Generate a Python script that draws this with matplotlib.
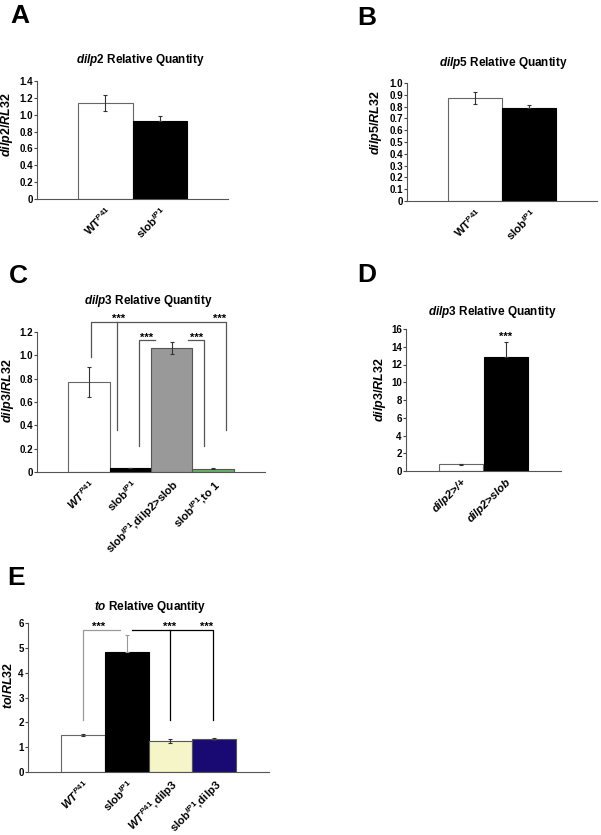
import matplotlib
matplotlib.use('Agg')
import matplotlib.pyplot as plt

plt.rcParams['font.family'] = ['Liberation Sans', 'DejaVu Sans']
plt.rcParams['font.weight'] = 'bold'
plt.rcParams['mathtext.fontset'] = 'custom'
plt.rcParams['mathtext.rm'] = 'Liberation Sans:bold'
plt.rcParams['mathtext.it'] = 'Liberation Sans:italic:bold'
plt.rcParams['mathtext.bf'] = 'Liberation Sans:bold'

# ---- data ----
# A: dilp2
a_labels = [r'WT$^{\mathit{P41}}$', r'slob$^{\mathit{IP1}}$']
a_vals = [1.14, 0.92]
a_err_lo = [0.09, 0.0]
a_err_hi = [0.09, 0.07]
a_colors = ['white', 'black']
a_ticks = [0, 0.2, 0.4, 0.6, 0.8, 1.0, 1.2, 1.4]

# B: dilp5
b_labels = [r'WT$^{\mathit{P41}}$', r'slob$^{\mathit{IP1}}$']
b_vals = [0.87, 0.79]
b_err_lo = [0.05, 0.0]
b_err_hi = [0.05, 0.02]
b_colors = ['white', 'black']
b_ticks = [0, 0.1, 0.2, 0.3, 0.4, 0.5, 0.6, 0.7, 0.8, 0.9, 1.0]

# C: dilp3
c_labels = [r'$\mathit{WT}^{\mathit{P41}}$', r'slob$^{\mathit{IP1}}$',
            r'slob$^{\mathit{IP1}}$,dilp2>slob', r'slob$^{\mathit{IP1}}$,to 1']
c_vals = [0.77, 0.03, 1.06, 0.025]
c_err_lo = [0.13, 0.0, 0.05, 0.0]
c_err_hi = [0.13, 0.005, 0.05, 0.005]
c_colors = ['white', 'black', '#999999', '#66b466']
c_ticks = [0, 0.2, 0.4, 0.6, 0.8, 1.0, 1.2]
# significance brackets: (x points, y points, colour)
c_brackets = [
    ([0.05, 0.05, 3.31, 3.31], [0.986, 1.286, 1.286, 0.357], '#555555'),
    ([0.69, 0.69], [1.286, 0.357], '#555555'),
    ([1.2, 1.2, 1.6], [0.22, 1.128, 1.128], '#555555'),
    ([2.4, 2.77, 2.77], [1.128, 1.128, 0.22], '#555555'),
]
c_stars = [(0.72, 1.286), (3.16, 1.286), (1.40, 1.128), (2.59, 1.128)]

# D: dilp3 overexpression
d_labels = ['dilp2>/+', 'dilp2>slob']
d_vals = [0.75, 12.8]
d_err_lo = [0.05, 0.0]
d_err_hi = [0.05, 1.7]
d_colors = ['white', 'black']
d_ticks = [0, 2, 4, 6, 8, 10, 12, 14, 16]
d_stars = [(1, 14.8)]

# E: to
e_labels = [r'$\mathit{WT}^{\mathit{P41}}$', r'slob$^{\mathit{IP1}}$',
            r'$\mathit{WT}^{\mathit{P41}}$,dilp3', r'slob$^{\mathit{IP1}}$,dilp3']
e_vals = [1.48, 4.82, 1.25, 1.33]
e_err_lo = [0.05, 0.0, 0.07, 0.05]
e_err_hi = [0.05, 0.68, 0.08, 0.05]
e_colors = ['white', 'black', '#f5f5c8', '#190a73']
e_ecolors = ['#333333', '#999999', '#333333', '#333333']
e_ticks = [0, 1, 2, 3, 4, 5, 6]
e_brackets = [
    ([0.0, 0.0, 0.86], [2.09, 5.73, 5.73], '#999999'),
    ([1.13, 2.97, 2.97], [5.73, 5.73, 2.09], 'black'),
    ([1.98, 1.98], [5.73, 2.09], 'black'),
]
e_stars = [(0.35, 5.73), (1.98, 5.73), (2.82, 5.73)]

W, H = 601, 835
fig = plt.figure(figsize=(W / 100, H / 100), dpi=100)


def fx(x):
    return x / W


def fy(y):
    return 1 - y / H


def make_panel(box, labels, vals, lo, hi, colors, ticks, ylab, title,
               title_xy, ylab_xy, fmt, ecolors=None, label_style='normal'):
    l, t, r, b = box
    ax = fig.add_axes([fx(l), fy(b), fx(r - l), (b - t) / H])
    n = len(vals)
    x = list(range(n))
    edges = ['#666666' if c == 'white' else 'black' if c == 'black' else '#555555' for c in colors]
    ax.bar(x, vals, width=1.0, color=colors, edgecolor=edges, linewidth=0.8, zorder=2)
    if ecolors is None:
        ecolors = ['#333333'] * n
    for i in range(n):
        ax.errorbar(x[i], vals[i], yerr=[[lo[i]], [hi[i]]], fmt='none',
                    ecolor=ecolors[i], elinewidth=0.8, capsize=1.5, capthick=0.8, zorder=3)
    ax.set_xlim(-1.25, n - 1 + 1.25)
    ax.set_ylim(ticks[0], ticks[-1])
    ax.set_yticks(ticks)
    ax.set_yticklabels([fmt(v) for v in ticks], fontsize=7, fontweight='bold')
    ax.set_xticks(x)
    ax.set_xticklabels(labels, rotation=45, ha='right', rotation_mode='anchor',
                       fontsize=8.2, fontweight='bold', fontstyle=label_style)
    ax.tick_params(axis='x', length=0, pad=4)
    ax.tick_params(axis='y', length=2, width=0.8, pad=1, color='#444444')
    for s in ['top', 'right']:
        ax.spines[s].set_visible(False)
    for s in ['left', 'bottom']:
        ax.spines[s].set_color('#555555')
        ax.spines[s].set_linewidth(0.8)
    fig.text(fx(title_xy[0]), fy(title_xy[1]), title, ha='center', va='center',
             fontsize=8.5, fontweight='bold')
    fig.text(fx(ylab_xy[0]), fy(ylab_xy[1]), ylab, ha='center', va='center',
             rotation=90, fontsize=9, fontweight='bold')
    return ax


def dec(v):
    return '0' if v == 0 else '%.1f' % v


def integer(v):
    return '%d' % v


ax_a = make_panel((37, 81, 228, 199), a_labels, a_vals, a_err_lo, a_err_hi, a_colors,
                  a_ticks, r'$\mathit{dilp2/RL32}$', r'$\mathit{dilp2}$ Relative Quantity',
                  (140, 60), (7, 125), dec)
ax_b = make_panel((407, 83, 597, 201), b_labels, b_vals, b_err_lo, b_err_hi, b_colors,
                  b_ticks, r'$\mathit{dilp5/RL32}$', r'$\mathit{dilp5}$ Relative Quantity',
                  (503, 63), (376, 123), dec)
ax_c = make_panel((37, 332, 265, 472), c_labels, c_vals, c_err_lo, c_err_hi, c_colors,
                  c_ticks, r'$\mathit{dilp3/RL32}$', r'$\mathit{dilp3}$ Relative Quantity',
                  (148, 301), (8, 391), dec)
ax_d = make_panel((406, 329, 561, 471), d_labels, d_vals, d_err_lo, d_err_hi, d_colors,
                  d_ticks, r'$\mathit{dilp3/RL32}$', r'$\mathit{dilp3}$ Relative Quantity',
                  (492, 312), (380, 390), integer, label_style='italic')
ax_e = make_panel((28, 623, 269, 772), e_labels, e_vals, e_err_lo, e_err_hi, e_colors,
                  e_ticks, r'$\mathit{to/RL32}$', r'$\mathit{to}$ Relative Quantity',
                  (150, 607), (9, 685), integer, ecolors=e_ecolors)

for xs, ys, col in c_brackets:
    ax_c.plot(xs, ys, color=col, lw=0.9, clip_on=False, zorder=4)
for sx, sy in c_stars:
    ax_c.text(sx, sy, '***', ha='center', va='baseline', fontsize=8, fontweight='bold')
for sx, sy in d_stars:
    ax_d.text(sx, sy, '***', ha='center', va='baseline', fontsize=8, fontweight='bold')
for xs, ys, col in e_brackets:
    ax_e.plot(xs, ys, color=col, lw=0.9, clip_on=False, zorder=4)
for sx, sy in e_stars:
    ax_e.text(sx, sy, '***', ha='center', va='baseline', fontsize=8, fontweight='bold')

# panel letters
for letter, (px, py) in zip('ABCDE', [(10, 23), (357, 25), (9, 283), (357, 282), (7, 585)]):
    fig.text(fx(px), fy(py), letter, ha='left', va='baseline', fontsize=19, fontweight='bold')

fig.savefig('out.png', dpi=100)
